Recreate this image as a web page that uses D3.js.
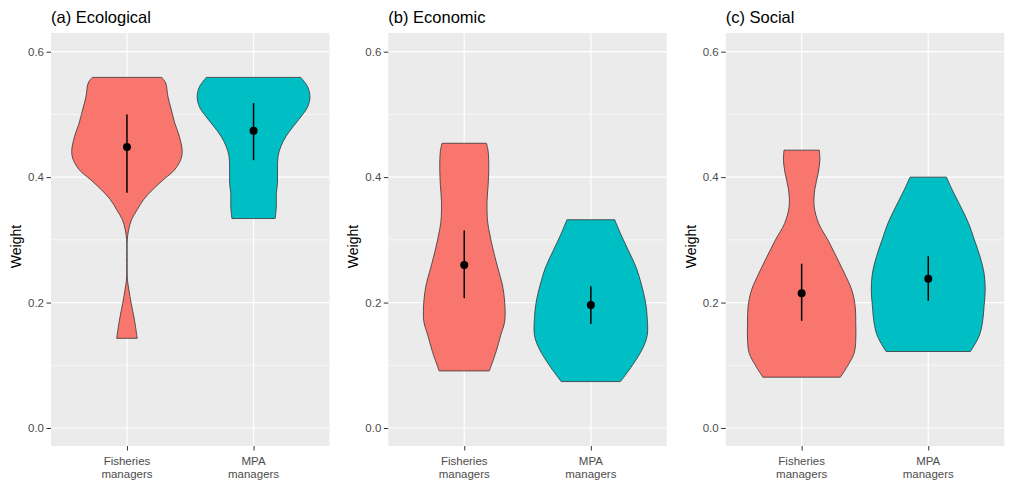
<!DOCTYPE html>
<html><head><meta charset="utf-8">
<script src="https://cdn.jsdelivr.net/npm/d3@7"></script>
<style>body{margin:0;background:#fff}svg{display:block;font-family:"Liberation Sans",Arial,sans-serif}</style>
</head><body><svg id="c" width="1013" height="488"></svg>
<script>
// ---- data ----
const categories = ["Fisheries managers", "MPA managers"];
const panelTitles = ["(a) Ecological", "(b) Economic", "(c) Social"];
const yTicks = [0.0, 0.2, 0.4, 0.6];
const yMinor = [0.1, 0.3, 0.5];

// violin profiles: [weight, relative density width]
const ecoFisheries = [[0.559,0.61],[0.550,0.68],[0.528,0.72],[0.507,0.78],[0.486,0.84],[0.465,0.92],[0.441,0.97],[0.427,0.94],[0.411,0.83],[0.396,0.64],[0.380,0.45],[0.364,0.29],[0.348,0.18],[0.332,0.08],[0.316,0.03],[0.300,0.006],[0.273,0.004],[0.252,0.004],[0.236,0.009],[0.220,0.035],[0.199,0.074],[0.178,0.12],[0.162,0.15],[0.143,0.18]];
const ecoMPA = [[0.559,0.83],[0.544,0.95],[0.528,0.99],[0.512,0.95],[0.496,0.83],[0.480,0.69],[0.465,0.57],[0.449,0.48],[0.433,0.43],[0.411,0.42],[0.390,0.42],[0.374,0.40],[0.353,0.40],[0.334,0.38]];
const econFisheries = [[0.454,0.39],[0.441,0.42],[0.414,0.43],[0.388,0.42],[0.361,0.40],[0.329,0.41],[0.308,0.45],[0.287,0.50],[0.255,0.59],[0.228,0.67],[0.201,0.71],[0.170,0.71],[0.148,0.64],[0.122,0.56],[0.091,0.44]];
const econMPA = [[0.332,0.42],[0.308,0.53],[0.281,0.67],[0.255,0.80],[0.228,0.89],[0.201,0.96],[0.175,0.99],[0.148,0.99],[0.127,0.91],[0.100,0.73],[0.074,0.52]];
const socFisheries = [[0.443,0.31],[0.427,0.32],[0.406,0.29],[0.380,0.23],[0.353,0.22],[0.326,0.30],[0.300,0.46],[0.273,0.61],[0.247,0.75],[0.220,0.88],[0.194,0.94],[0.167,0.95],[0.140,0.95],[0.119,0.92],[0.098,0.80],[0.081,0.68]];
const socMPA = [[0.400,0.32],[0.380,0.42],[0.353,0.57],[0.326,0.71],[0.300,0.81],[0.273,0.91],[0.247,0.98],[0.220,1.00],[0.194,0.98],[0.167,0.95],[0.146,0.89],[0.122,0.74]];

// summary points (mean with interval), per category
const ecoMean = [0.448, 0.474], ecoLow = [0.375, 0.427], ecoHigh = [0.500, 0.518];
const econMean = [0.260, 0.196], econLow = [0.207, 0.166], econHigh = [0.315, 0.226];
const socMean = [0.215, 0.238], socLow = [0.171, 0.203], socHigh = [0.262, 0.274];

const panels = [
  {violins:[ecoFisheries, ecoMPA], mean:ecoMean, low:ecoLow, high:ecoHigh},
  {violins:[econFisheries, econMPA], mean:econMean, low:econLow, high:econHigh},
  {violins:[socFisheries, socMPA], mean:socMean, low:socLow, high:socHigh}
];
const fills = ["#F8766D", "#00BFC4"];

// ---- layout ----
const svg = d3.select("#c");
const panelLeft = [51, 388.3, 725.7], panelW = 278.5, pTop = 33, pBottom = 446;

panels.forEach((p, i) => {
  const left = panelLeft[i], right = left + panelW;
  const y = d3.scaleLinear().domain([-0.0287, 0.6298]).range([pBottom, pTop]);
  const x = d3.scaleLinear().domain([0.4, 2.6]).range([left, right]);
  const g = svg.append("g");

  g.append("rect").attr("x", left).attr("y", pTop).attr("width", panelW).attr("height", pBottom - pTop).attr("fill", "#EBEBEB");
  g.selectAll(".minor").data(yMinor).join("line")
    .attr("x1", left).attr("x2", right).attr("y1", d => y(d)).attr("y2", d => y(d))
    .attr("stroke", "#fff").attr("stroke-width", 0.6);
  g.selectAll(".major").data(yTicks).join("line")
    .attr("x1", left).attr("x2", right).attr("y1", d => y(d)).attr("y2", d => y(d))
    .attr("stroke", "#fff").attr("stroke-width", 1.2);
  g.selectAll(".vmajor").data([1, 2]).join("line")
    .attr("x1", d => x(d)).attr("x2", d => x(d)).attr("y1", pTop).attr("y2", pBottom)
    .attr("stroke", "#fff").attr("stroke-width", 1.2);

  p.violins.forEach((v, k) => {
    const pos = k + 1;
    const area = d3.area()
      .y(d => y(d[0]))
      .x0(d => x(pos - d[1] * 0.45))
      .x1(d => x(pos + d[1] * 0.45))
      .curve(d3.curveCatmullRom);
    g.append("path").attr("d", area(v)).attr("fill", fills[k])
      .attr("stroke", "#333").attr("stroke-width", 0.8).attr("stroke-linejoin", "round");
    g.append("line").attr("x1", x(pos)).attr("x2", x(pos))
      .attr("y1", y(p.low[k])).attr("y2", y(p.high[k]))
      .attr("stroke", "#000").attr("stroke-width", 1.5);
    g.append("circle").attr("cx", x(pos)).attr("cy", y(p.mean[k])).attr("r", 4).attr("fill", "#000");
  });

  // y axis
  const ya = g.append("g").attr("transform", `translate(${left},0)`)
    .call(d3.axisLeft(y).tickValues(yTicks).tickFormat(d3.format(".1f")).tickSize(4.5).tickPadding(2.5));
  ya.select(".domain").remove();
  ya.selectAll(".tick line").attr("stroke", "#333").attr("stroke-width", 1);
  ya.selectAll(".tick text").attr("fill", "#4D4D4D").style("font-size", "11.5px")
    .style("font-family", '"Liberation Sans",Arial,sans-serif');

  // x axis
  const xa = g.append("g").attr("transform", `translate(0,${pBottom})`)
    .call(d3.axisBottom(x).tickValues([1, 2]).tickSize(4.5).tickFormat(""));
  xa.select(".domain").remove();
  xa.selectAll(".tick line").attr("stroke", "#333").attr("stroke-width", 1);
  categories.forEach((c, k) => {
    const words = c.split(" ");
    const t = g.append("text").attr("text-anchor", "middle").attr("fill", "#4D4D4D")
      .style("font-size", "11.5px");
    words.forEach((w, j) => t.append("tspan").attr("x", x(k + 1)).attr("y", 465 + j * 12.5).text(w));
  });

  // axis title
  g.append("text").attr("transform", `translate(${left - 30},${(pTop + pBottom) / 2 + 7}) rotate(-90)`)
    .attr("text-anchor", "middle").style("font-size", "14px").attr("fill", "#000").text("Weight");

  // panel title
  g.append("text").attr("x", left).attr("y", 23).style("font-size", "16.5px").attr("fill", "#000").text(panelTitles[i]);
});
</script></body></html>
